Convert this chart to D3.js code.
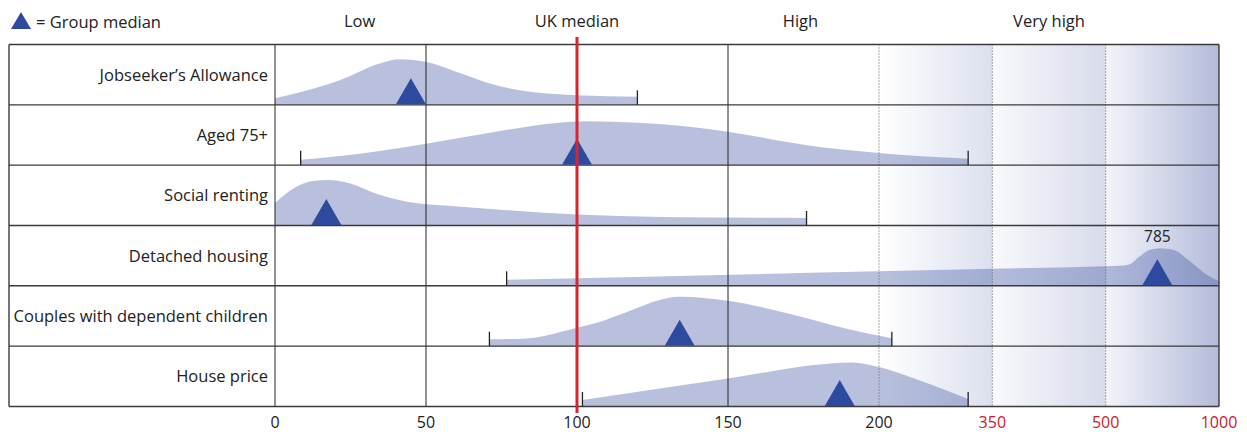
<!DOCTYPE html>
<html><head><meta charset="utf-8">
<script src="https://cdn.jsdelivr.net/npm/d3@7/dist/d3.min.js"></script>
<style>body{margin:0;background:#fff}svg{display:block;font-family:"Open Sans",sans-serif}</style>
</head><body><svg id="c" width="1247" height="432"></svg>
<script>
// ---------- data ----------
const categories = ["Jobseeker\u2019s Allowance","Aged 75+","Social renting","Detached housing","Couples with dependent children","House price"];
// [value, relative density]
const densJobseeker = [[0,.13],[21,.48],[36,.85],[41,.91],[49,.87],[61,.64],[72,.41],[82,.28],[100,.19],[120,.16]];
const densAged75 = [[8.5,.11],[28,.23],[50,.43],[73,.67],[94,.85],[102,.88],[126,.83],[150,.67],[175,.41],[199,.25],[257,.18],[318,.13]];
const densSocial = [[0,.45],[6.4,.75],[12.4,.89],[17.4,.91],[24.3,.85],[34.3,.62],[44.3,.47],[58.3,.39],[78.3,.30],[100,.22],[128,.17],[176,.15]];
const densDetached = [[76.7,.12],[200,.29],[350,.34],[500,.39],[560,.40],[600,.42],[651,.59],[695,.72],[740,.75],[798,.72],[872,.49],[946,.22],[1000,.09]];
const densCouples = [[71,.14],[82,.15],[100,.37],[106,.46],[118,.72],[127,.92],[134,.99],[150,.91],[171,.64],[190,.34],[217,.16]];
const densHouse = [[101.8,.13],[133,.41],[150,.56],[184,.86],[191,.88],[200,.79],[245,.57],[281,.37],[318,.15]];
const densities = [densJobseeker, densAged75, densSocial, densDetached, densCouples, densHouse];
const medians = [45, 100, 17, 728, 134, 187];
const medianLabels = ["", "", "", "785", "", ""];
const tickValues = [0, 50, 100, 150, 200, 350, 500, 1000];
const tickLabels = ["0","50","100","150","200","350","500","1000"];
const bandLabels = ["Low","UK median","High","Very high"];
const bandLabelValues = [28, 100, 174, 425];
const legendText = "= Group median";

// ---------- layout ----------
const frameL = 9, plotL = 275, plotR = 1219, plotTop = 44.5;
const nRows = categories.length, rowH = 60.33;
const plotBottom = plotTop + nRows * rowH;
const unit = 151; // px per 50 in linear part
const xLinEnd = plotL + 4 * unit;
const band = (plotR - xLinEnd) / 3;
const fs = 16.5;

const x = d3.scaleLinear().domain([0, 200, 350, 500, 1000])
  .range([plotL, xLinEnd, xLinEnd + band, xLinEnd + 2 * band, plotR]);
const h = d3.scaleLinear().domain([0, 1]).range([0, 50]);
const rowBottom = i => plotTop + (i + 1) * rowH;

const svg = d3.select("#c");
const defs = svg.append("defs");
const bandColors = [["#ffffff","#dce0ee"],["#f8f9fc","#d7dbeb"],["#f3f4f9","#b3bbda"]];
const bandDomains = [[200,350],[350,500],[500,1000]];
bandDomains.forEach((b, i) => {
  const g = defs.append("linearGradient").attr("id", "g" + i)
    .attr("gradientUnits", "userSpaceOnUse")
    .attr("x1", x(b[0])).attr("x2", x(b[1])).attr("y1", 0).attr("y2", 0);
  g.append("stop").attr("offset", 0).attr("stop-color", bandColors[i][0]);
  g.append("stop").attr("offset", 1).attr("stop-color", bandColors[i][1]);
  svg.append("rect").attr("x", x(b[0])).attr("y", plotTop)
    .attr("width", x(b[1]) - x(b[0])).attr("height", plotBottom - plotTop)
    .attr("fill", `url(#g${i})`);
});

// densities
const area = d3.area().curve(d3.curveMonotoneX).x(d => x(d[0]));
densities.forEach((dens, i) => {
  const yb = rowBottom(i);
  svg.append("path").datum(dens)
    .attr("d", area.y0(yb).y1(d => yb - h(d[1])))
    .attr("fill", "rgb(58,79,160)").attr("fill-opacity", 0.36);
});

// vertical grid lines
[0, 50, 150].forEach(v => {
  svg.append("line").attr("x1", x(v)).attr("x2", x(v)).attr("y1", plotTop).attr("y2", plotBottom)
    .attr("stroke", "#222").attr("stroke-width", 1);
});
[200, 350, 500].forEach(v => {
  svg.append("line").attr("x1", x(v)).attr("x2", x(v)).attr("y1", plotTop).attr("y2", plotBottom)
    .attr("stroke", "#555").attr("stroke-width", 1).attr("stroke-dasharray", "1,2");
});

// horizontal frame lines
d3.range(nRows + 1).forEach(i => {
  const y = plotTop + i * rowH;
  svg.append("line").attr("x1", frameL).attr("x2", plotR).attr("y1", y).attr("y2", y)
    .attr("stroke", "#3a3a3a").attr("stroke-width", 1.4);
});
svg.append("line").attr("x1", frameL).attr("x2", frameL).attr("y1", plotTop).attr("y2", plotBottom)
  .attr("stroke", "#3a3a3a").attr("stroke-width", 1.4);
svg.append("line").attr("x1", plotR).attr("x2", plotR).attr("y1", plotTop).attr("y2", plotBottom)
  .attr("stroke", "#3a3a3a").attr("stroke-width", 1.4);

// range end ticks
densities.forEach((dens, i) => {
  const yb = rowBottom(i);
  const ends = [dens[0][0], dens[dens.length - 1][0]].filter(v => v > 0 && v < 1000);
  ends.forEach(v => {
    svg.append("line").attr("x1", x(v)).attr("x2", x(v)).attr("y1", yb).attr("y2", yb - 14.5)
      .attr("stroke", "#222").attr("stroke-width", 1.3);
  });
});

// medians
const triColor = "#2e4a9f";
const tri = (cx, by, w, ht) => `M${cx - w / 2},${by}L${cx},${by - ht}L${cx + w / 2},${by}Z`;
medians.forEach((m, i) => {
  const yb = rowBottom(i) - 0.5;
  svg.append("path").attr("d", tri(x(m), yb, 30, 26)).attr("fill", triColor);
  if (medianLabels[i]) {
    svg.append("text").attr("x", x(m)).attr("y", plotTop + i * rowH + 17)
      .attr("text-anchor", "middle").attr("font-size", 15.5).attr("fill", "#222")
      .text(medianLabels[i]);
  }
});

// UK median red line
svg.append("line").attr("x1", x(100)).attr("x2", x(100)).attr("y1", 37).attr("y2", 413)
  .attr("stroke", "#d3262e").attr("stroke-width", 3);

// row labels
categories.forEach((c, i) => {
  svg.append("text").attr("x", plotL - 7).attr("y", plotTop + i * rowH + rowH / 2 + 6)
    .attr("text-anchor", "end").attr("font-size", fs).attr("fill", "#222").text(c);
});

// top labels
bandLabels.forEach((t, i) => {
  svg.append("text").attr("x", x(bandLabelValues[i])).attr("y", 27)
    .attr("text-anchor", "middle").attr("font-size", fs).attr("fill", "#222").text(t);
});

// bottom tick labels
tickValues.forEach((v, i) => {
  svg.append("text").attr("x", x(v)).attr("y", 427.5)
    .attr("text-anchor", "middle").attr("font-size", 16)
    .attr("fill", v > 200 ? "#c8202f" : "#222").text(tickLabels[i]);
});

// legend
svg.append("path").attr("d", tri(21, 29, 20, 17)).attr("fill", triColor);
svg.append("text").attr("x", 36).attr("y", 28).attr("font-size", fs).attr("fill", "#222").text(legendText);
</script></body></html>
